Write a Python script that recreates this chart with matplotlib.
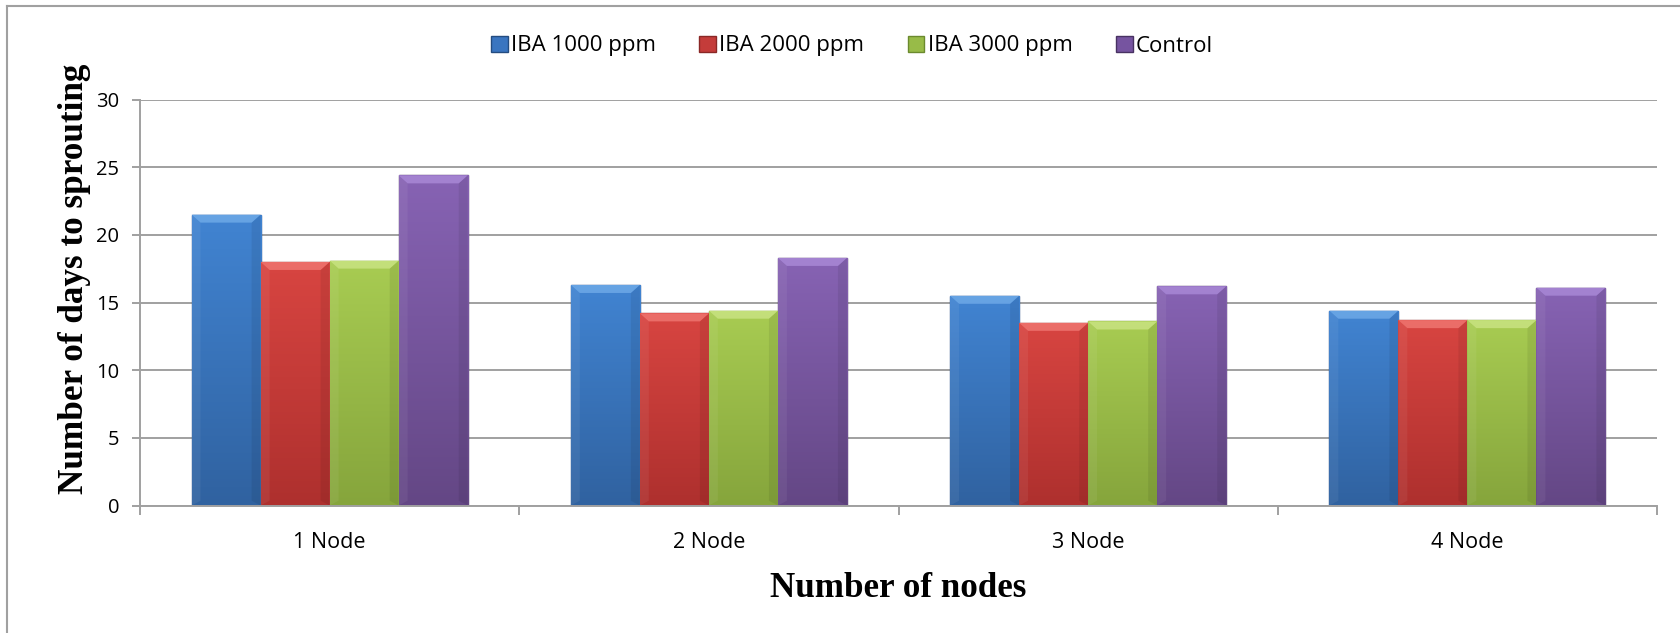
import numpy as np
import matplotlib
matplotlib.use("Agg")
import matplotlib.pyplot as plt
from matplotlib.colors import LinearSegmentedColormap
from matplotlib.lines import Line2D
from matplotlib.patches import Polygon

# ---- data ----
categories = ["1 Node", "2 Node", "3 Node", "4 Node"]
series_names = ["IBA 1000 ppm", "IBA 2000 ppm", "IBA 3000 ppm", "Control"]
iba_1000 = [21.5, 16.3, 15.5, 14.4]
iba_2000 = [18.0, 14.2, 13.5, 13.7]
iba_3000 = [18.1, 14.4, 13.6, 13.7]
control = [24.4, 18.3, 16.2, 16.1]
y_ticks = [0, 5, 10, 15, 20, 25, 30]

series_values = [iba_1000, iba_2000, iba_3000, control]

# colour sets: base, light (top of gradient), dark (bottom), edge, bevel highlight
palette = [
    dict(base="#3a75c0", light="#4184d2", dark="#3062a0", edge="#244c80", hi="#74aeea"),
    dict(base="#c43c3a", light="#d84541", dark="#ae302e", edge="#8a2826", hi="#f27b76"),
    dict(base="#98bb48", light="#a8cc52", dark="#86a53c", edge="#6b8a2e", hi="#cde688"),
    dict(base="#7654a0", light="#8763b4", dark="#644785", edge="#483262", hi="#ad8ddb"),
]

plt.rcParams["font.family"] = ["Open Sans", "DejaVu Sans"]

W, H = 1680, 633
fig = plt.figure(figsize=(W / 100, H / 100), dpi=100)
fig.patch.set_facecolor("white")

ax_left, ax_right, ax_top, ax_bottom = 140, 1657, 99.6, 505.5
ax = fig.add_axes([ax_left / W, 1 - ax_bottom / H,
                   (ax_right - ax_left) / W, (ax_bottom - ax_top) / H])

n_series = len(series_values)
bar_w = 0.182
x = np.arange(len(categories))
grid_c = "#a0a0a0"

all_bars = []
for i, (vals, name, pal) in enumerate(zip(series_values, series_names, palette)):
    offs = (i - (n_series - 1) / 2) * bar_w
    bars = ax.bar(x + offs, vals, width=bar_w, color=pal["base"],
                  edgecolor=pal["edge"], linewidth=1.0, label=name, zorder=2)
    all_bars.append((bars, pal))

ax.set_xlim(-0.5, len(categories) - 0.5)
ax.set_ylim(0, 30)
ax.set_yticks(y_ticks)
ax.set_axisbelow(True)
ax.yaxis.grid(True, color=grid_c, linewidth=1.4)

# shaded fill with bevelled edges on each bar
grad = np.linspace(0, 1, 256).reshape(-1, 1)
px_per_unit = (ax_bottom - ax_top) / 30.0
bevel_h = 8 / px_per_unit
for bars, pal in all_bars:
    cmap = LinearSegmentedColormap.from_list("g", [pal["dark"], pal["light"]])
    for p in bars:
        bx, by = p.get_x(), p.get_y()
        bw, bh = p.get_width(), p.get_height()
        im = ax.imshow(grad, extent=[bx, bx + bw, by, by + bh], origin="lower",
                       aspect="auto", cmap=cmap, zorder=2.1, interpolation="bicubic")
        im.set_clip_path(p)
        inset = bw * 0.13
        top = by + bh
        # left and right bevels
        ax.add_patch(Polygon([[bx, by], [bx + inset, by + bevel_h * 0.6],
                              [bx + inset, top - bevel_h], [bx, top]],
                             closed=True, facecolor="white", edgecolor="none",
                             alpha=0.06, zorder=2.15))
        ax.add_patch(Polygon([[bx + bw, by], [bx + bw - inset, by + bevel_h * 0.6],
                              [bx + bw - inset, top - bevel_h], [bx + bw, top]],
                             closed=True, facecolor="black", edgecolor="none",
                             alpha=0.07, zorder=2.15))
        # top bevel
        ax.add_patch(Polygon([[bx, top], [bx + bw, top],
                              [bx + bw - inset, top - bevel_h], [bx + inset, top - bevel_h]],
                             closed=True, facecolor=pal["hi"], edgecolor="none",
                             alpha=0.75, zorder=2.2))
        ax.add_patch(Polygon(p.get_verts(), closed=True, facecolor="none",
                             edgecolor=pal["edge"], linewidth=1.0, zorder=2.3))

# axes styling
for s in ("top", "right"):
    ax.spines[s].set_visible(False)
for s in ("left", "bottom"):
    ax.spines[s].set_color(grid_c)
    ax.spines[s].set_linewidth(1.4)

ax.set_xticks(x)
ax.set_xticklabels(categories, fontsize=15.5)
ax.tick_params(axis="x", which="major", length=0, pad=19)
ax.set_xticks(np.arange(-0.5, len(categories)), minor=True)
ax.tick_params(axis="x", which="minor", length=6.5, width=1.4, color=grid_c, direction="out")
ax.tick_params(axis="y", length=6, width=1.4, color=grid_c, labelsize=14.5, pad=9)

# axis titles
fig.text((ax_left + ax_right) / 2 / W, 1 - 597 / H, "Number of nodes",
         family="Liberation Serif", weight="bold", fontsize=25.2,
         ha="center", va="baseline")
fig.text(75 / W, 1 - 279 / H, "Number of days to sprouting",
         family="Liberation Serif", weight="bold", fontsize=25.3,
         rotation=90, ha="center", va="center")

# legend across the top
handles, labels = ax.get_legend_handles_labels()
fig.legend(handles, labels, loc="center", bbox_to_anchor=(852 / W, 1 - 46 / H),
           ncol=4, frameon=False, fontsize=16.0, handlelength=0.75,
           handleheight=0.75, handletextpad=0.15, columnspacing=1.95)

# outer frame (left and top edges)
fr = dict(color="#a0a0a0", linewidth=1.5, transform=fig.transFigure)
fig.add_artist(Line2D([7 / W, 7 / W], [0, 1 - 6 / H], **fr))
fig.add_artist(Line2D([7 / W, 1], [1 - 6 / H, 1 - 6 / H], **fr))

fig.savefig("out.png", dpi=100, facecolor="white")
